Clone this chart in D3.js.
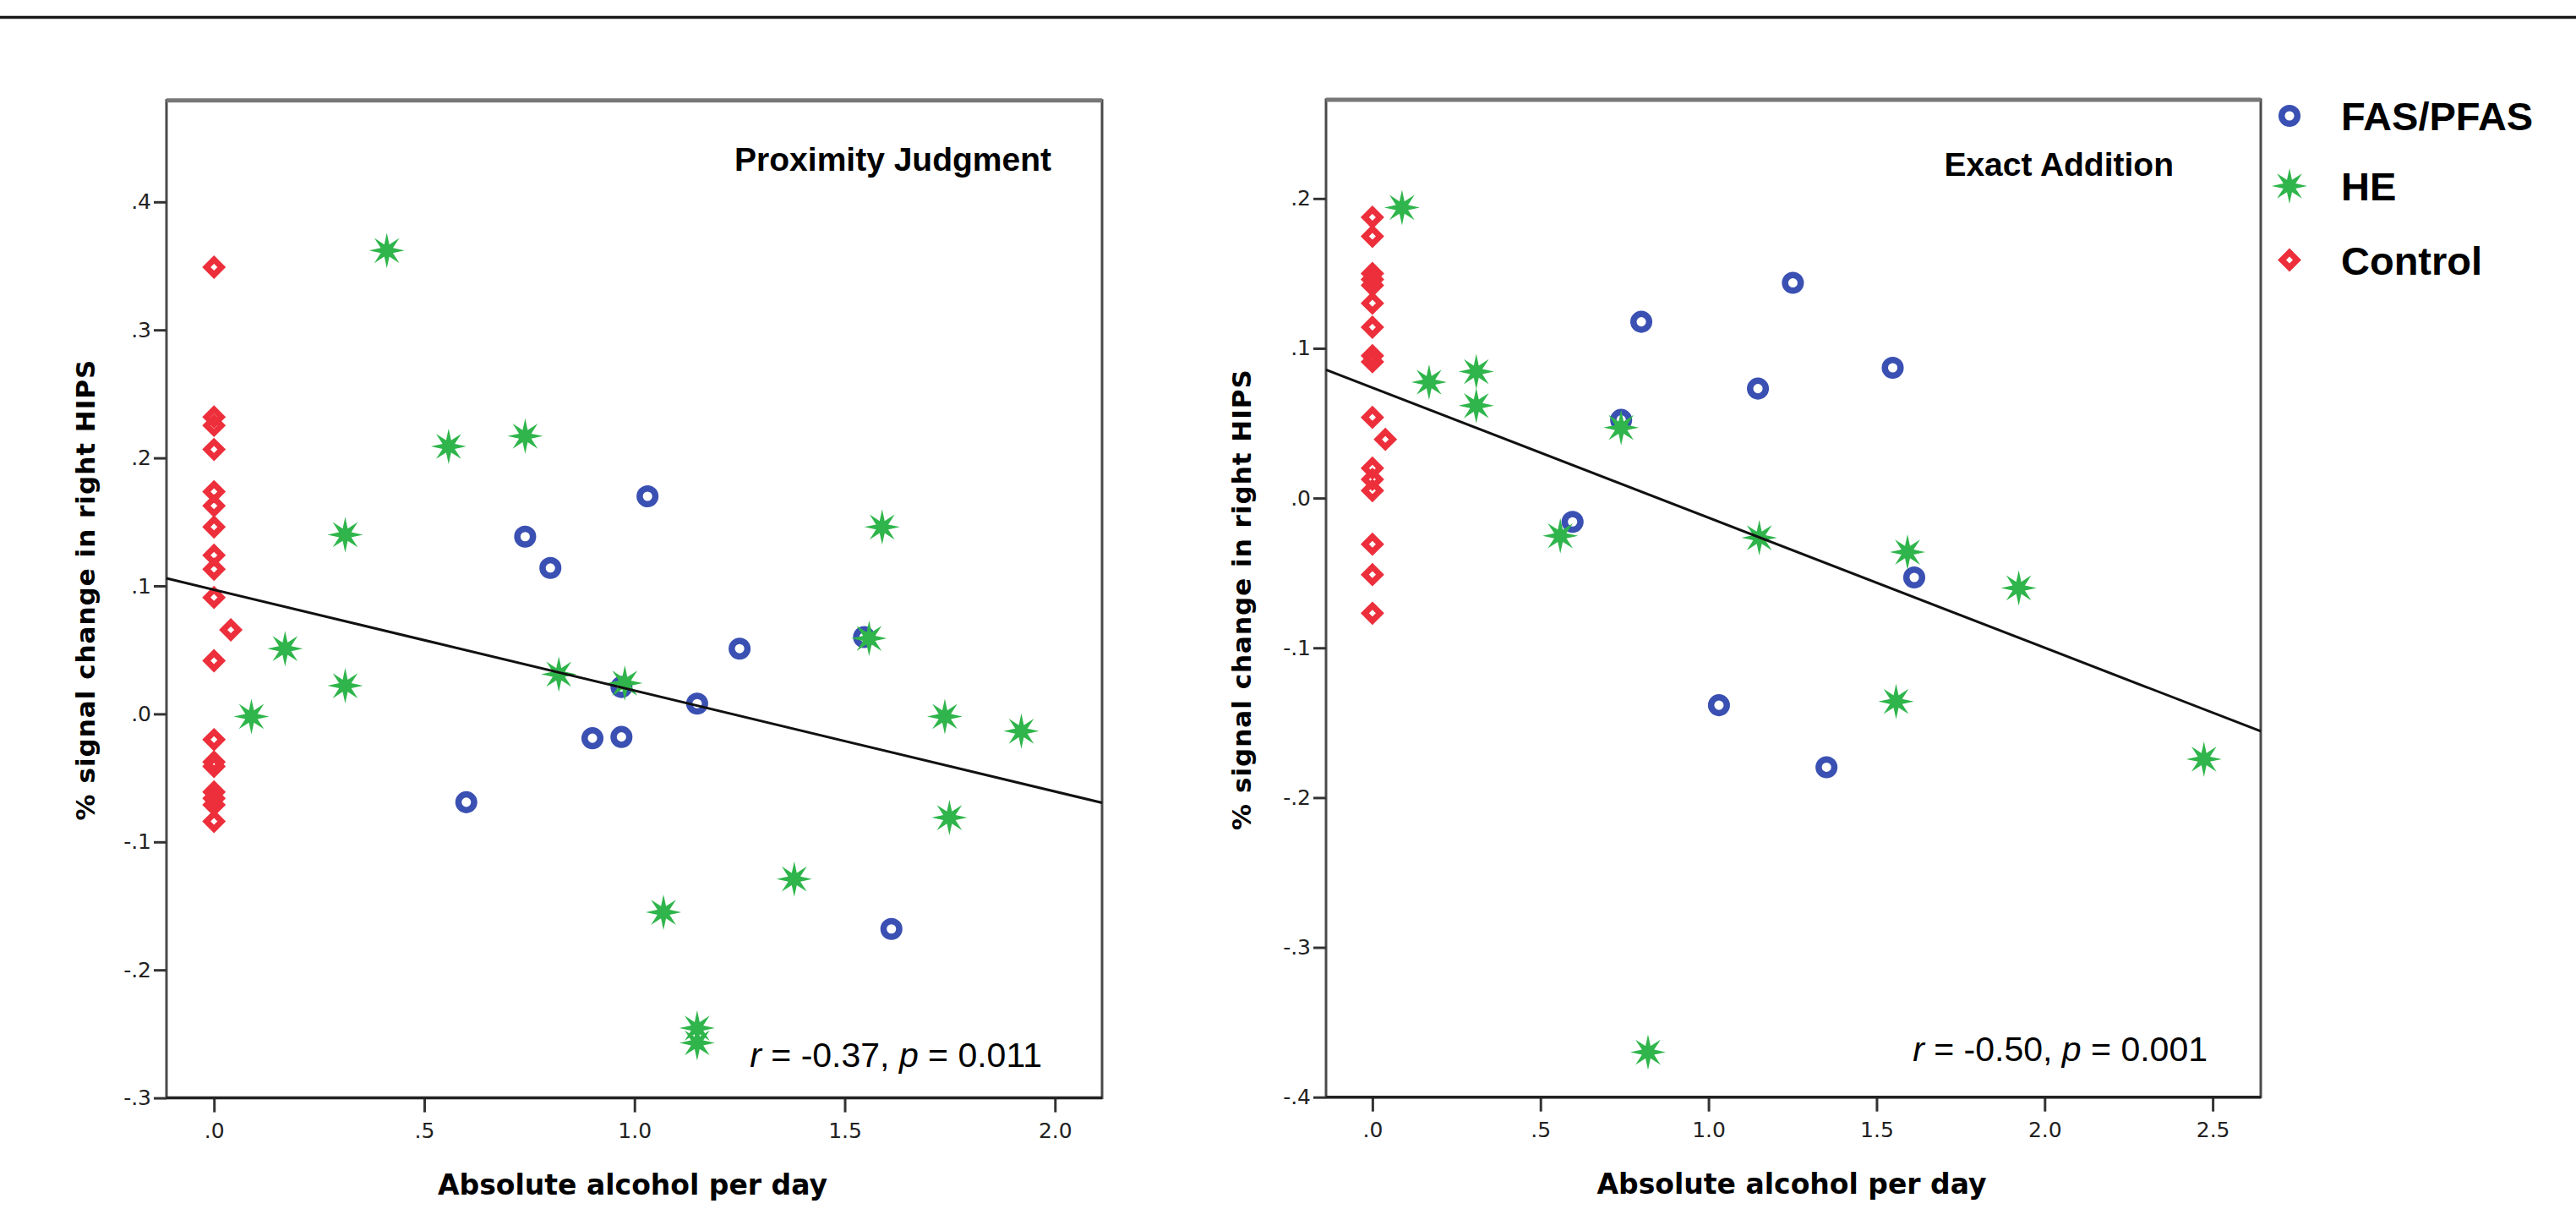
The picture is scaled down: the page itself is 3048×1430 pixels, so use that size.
<!DOCTYPE html>
<html>
<head>
<meta charset="utf-8">
<script src="https://cdn.jsdelivr.net/npm/d3@7.9.0/dist/d3.min.js"></script>
<style>
  html, body { margin: 0; padding: 0; background: #fff; }
  svg { display: block; }
</style>
</head>
<body>
<svg id="chart" width="3048" height="1430"></svg>
<script>
// groups shown in the legend
const groups = ['FAS/PFAS', 'HE', 'Control'];

// Proximity Judgment panel: [alcohol per day, % signal change]
const proxFas = [
  [1.031, 0.170], [0.740, 0.1385], [0.800, 0.114], [1.250, 0.051], [1.546, 0.060],
  [0.969, 0.021], [1.149, 0.008], [0.900, -0.019], [0.969, -0.018], [0.600, -0.069],
  [1.611, -0.168]
];
const proxHe = [
  [0.411, 0.362], [0.558, 0.209], [0.740, 0.217], [0.312, 0.140], [1.589, 0.146],
  [0.169, 0.051], [1.558, 0.059], [0.312, 0.022], [0.089, -0.002], [0.820, 0.031],
  [0.977, 0.024], [1.738, -0.002], [1.920, -0.0135], [1.749, -0.081], [1.380, -0.129],
  [1.069, -0.155], [1.149, -0.2455], [1.149, -0.257]
];
const proxControl = [
  [0, 0.349], [0, 0.232], [0, 0.2254], [0, 0.2066], [0, 0.1736], [0, 0.1626],
  [0, 0.1461], [0, 0.124], [0, 0.113], [0, 0.091], [0.040, 0.0657], [0, 0.0415],
  [0, -0.0201], [0, -0.0375], [0, -0.041], [0, -0.061], [0, -0.066], [0, -0.071],
  [0, -0.084]
];
const proxFit = [0.097, -0.0788]; // intercept, slope
const proxXTicks = [0, 0.5, 1.0, 1.5, 2.0];
const proxYTicks = [-0.3, -0.2, -0.1, 0, 0.1, 0.2, 0.3, 0.4];

// Exact Addition panel
const addFas = [
  [1.251, 0.1437], [0.800, 0.1177], [1.548, 0.087], [1.147, 0.0731], [0.740, 0.0522],
  [0.5955, -0.0159], [1.612, -0.053], [1.031, -0.1383], [1.351, -0.1797]
];
const addHe = [
  [0.088, 0.194], [0.1685, 0.0774], [0.309, 0.0844], [0.309, 0.0617], [0.740, 0.0471],
  [0.559, -0.0252], [1.151, -0.0265], [1.592, -0.0361], [1.923, -0.060], [1.558, -0.1358],
  [2.474, -0.1743], [0.820, -0.370]
];
const addControl = [
  [0, 0.1875], [0, 0.1748], [0, 0.150], [0, 0.146], [0, 0.142], [0, 0.1301],
  [0, 0.1141], [0, 0.095], [0, 0.091], [0, 0.0539], [0.0385, 0.0392], [0, 0.020],
  [0, 0.0125], [0, 0.005], [0, -0.0308], [0, -0.0511], [0, -0.0769]
];
const addFit = [0.0737, -0.0868];
const addXTicks = [0, 0.5, 1.0, 1.5, 2.0, 2.5];
const addYTicks = [-0.4, -0.3, -0.2, -0.1, 0, 0.1, 0.2];

const BLUE = '#3a50b2';
const GREEN = '#2fb54b';
const RED = '#ec2f3b';
const SANS = '"Liberation Sans", Arial, sans-serif';
const WIDE = '"DejaVu Sans", Verdana, sans-serif';

const svg = d3.select('#chart');

// rule across the top of the figure
svg.append('line')
  .attr('x1', 0).attr('x2', 3048)
  .attr('y1', 20.5).attr('y2', 20.5)
  .attr('stroke', '#1a1a1a')
  .attr('stroke-width', 3.5);

function starPath(outer, inner, n) {
  const pts = [];
  for (let i = 0; i < n * 2; i++) {
    const r = i % 2 === 0 ? outer : inner;
    const a = -Math.PI / 2 + (i * Math.PI) / n;
    pts.push([r * Math.cos(a), r * Math.sin(a)]);
  }
  return 'M' + pts.map(p => p.map(v => v.toFixed(2)).join(',')).join('L') + 'Z';
}
const STAR = starPath(21, 7.8, 8);
const DIAMOND = 'M0,-9L9,0L0,9L-9,0Z';

function drawCircle(g) {
  g.append('circle').attr('r', 9.3)
    .attr('fill', 'none').attr('stroke', BLUE).attr('stroke-width', 7.5);
}
function drawStar(g) {
  g.append('path').attr('d', STAR).attr('fill', GREEN);
}
function drawDiamond(g) {
  g.append('path').attr('d', DIAMOND)
    .attr('fill', 'none').attr('stroke', RED).attr('stroke-width', 7);
}
const markers = [drawCircle, drawStar, drawDiamond];

const tickFmt = v => v.toFixed(1).replace(/^(-?)0\./, '$1.');

const panels = [
  {
    title: 'Proximity Judgment', stats: ['-0.37', '0.011'],
    series: [proxFas, proxHe, proxControl], fit: proxFit,
    xTicks: proxXTicks, yTicks: proxYTicks,
    xDomain: [-0.113, 2.112], yDomain: [-0.3, 0.4793],
    left: 197, right: 1304, top: 118.75, bottom: 1298.6,
    titleX: 1244, titleY: 202, statsX: 1233, statsY: 1262,
    yTitleX: 111.7, yTitleY: 697.5, xTitleY: 1413
  },
  {
    title: 'Exact Addition', stats: ['-0.50', '0.001'],
    series: [addFas, addHe, addControl], fit: addFit,
    xTicks: addXTicks, yTicks: addYTicks,
    xDomain: [-0.138, 2.643], yDomain: [-0.4, 0.266],
    left: 1569, right: 2675, top: 117.9, bottom: 1297.7,
    titleX: 2572, titleY: 208, statsX: 2612, statsY: 1255,
    yTitleX: 1480, yTitleY: 709, xTitleY: 1412
  }
];

panels.forEach(p => {
  const x = d3.scaleLinear().domain(p.xDomain).range([p.left, p.right]);
  const y = d3.scaleLinear().domain(p.yDomain).range([p.bottom, p.top]);
  const g = svg.append('g');

  // frame
  g.append('rect')
    .attr('x', p.left).attr('y', p.top)
    .attr('width', p.right - p.left).attr('height', p.bottom - p.top)
    .attr('fill', 'none').attr('stroke', '#4a4a4a').attr('stroke-width', 3);
  g.append('line')
    .attr('x1', p.left).attr('x2', p.right)
    .attr('y1', p.top).attr('y2', p.top)
    .attr('stroke', '#777').attr('stroke-width', 5);

  // axes
  const xAxis = g.append('g')
    .attr('transform', `translate(0,${p.bottom})`)
    .call(d3.axisBottom(x).tickValues(p.xTicks).tickFormat(tickFmt)
      .tickSize(17).tickSizeOuter(0).tickPadding(13));
  const yAxis = g.append('g')
    .attr('transform', `translate(${p.left},0)`)
    .call(d3.axisLeft(y).tickValues(p.yTicks).tickFormat(tickFmt)
      .tickSize(15).tickSizeOuter(0).tickPadding(3));
  [xAxis, yAxis].forEach(a => {
    a.select('.domain').remove();
    a.selectAll('.tick line').attr('stroke', '#333').attr('stroke-width', 3);
    a.selectAll('.tick text')
      .attr('fill', '#222')
      .style('font-family', WIDE)
      .style('font-size', '25px');
  });
  // bottom axis line drawn over the frame
  g.append('line')
    .attr('x1', p.left).attr('x2', p.right)
    .attr('y1', p.bottom).attr('y2', p.bottom)
    .attr('stroke', '#222').attr('stroke-width', 3.5);

  // points
  p.series.forEach((data, i) => {
    g.append('g').selectAll('g')
      .data(data)
      .join('g')
      .attr('transform', d => `translate(${x(d[0])},${y(d[1])})`)
      .each(function () { markers[i](d3.select(this)); });
  });

  // fit line
  const [b0, b1] = p.fit;
  g.append('line')
    .attr('x1', x(p.xDomain[0])).attr('y1', y(b0 + b1 * p.xDomain[0]))
    .attr('x2', x(p.xDomain[1])).attr('y2', y(b0 + b1 * p.xDomain[1]))
    .attr('stroke', '#111').attr('stroke-width', 3);

  // panel title
  g.append('text')
    .attr('x', p.titleX).attr('y', p.titleY)
    .attr('text-anchor', 'end')
    .style('font-family', SANS).style('font-weight', 'bold').style('font-size', '39px')
    .text(p.title);

  // correlation text
  const st = g.append('text')
    .attr('x', p.statsX).attr('y', p.statsY)
    .attr('text-anchor', 'end')
    .style('font-family', SANS).style('font-size', '41px');
  st.append('tspan').style('font-style', 'italic').text('r');
  st.append('tspan').text(` = ${p.stats[0]}, `);
  st.append('tspan').style('font-style', 'italic').text('p');
  st.append('tspan').text(` = ${p.stats[1]}`);

  // axis titles
  g.append('text')
    .attr('x', (p.left + p.right) / 2 - 2).attr('y', p.xTitleY)
    .attr('text-anchor', 'middle')
    .style('font-family', WIDE).style('font-weight', 'bold').style('font-size', '33px')
    .text('Absolute alcohol per day');
  g.append('text')
    .attr('transform', `translate(${p.yTitleX},${p.yTitleY}) rotate(-90)`)
    .attr('text-anchor', 'middle')
    .style('font-family', WIDE).style('font-weight', 'bold').style('font-size', '31px')
    .style('letter-spacing', '1px')
    .text('% signal change in right HIPS');
});

// legend
const legendY = [137, 220, 307.5];
const legend = svg.append('g');
groups.forEach((name, i) => {
  const row = legend.append('g').attr('transform', `translate(2709,${legendY[i]})`);
  markers[i](row);
  row.append('text')
    .attr('x', 61).attr('y', 17)
    .style('font-family', SANS).style('font-weight', 'bold').style('font-size', '47px')
    .text(name);
});
</script>
</body>
</html>
